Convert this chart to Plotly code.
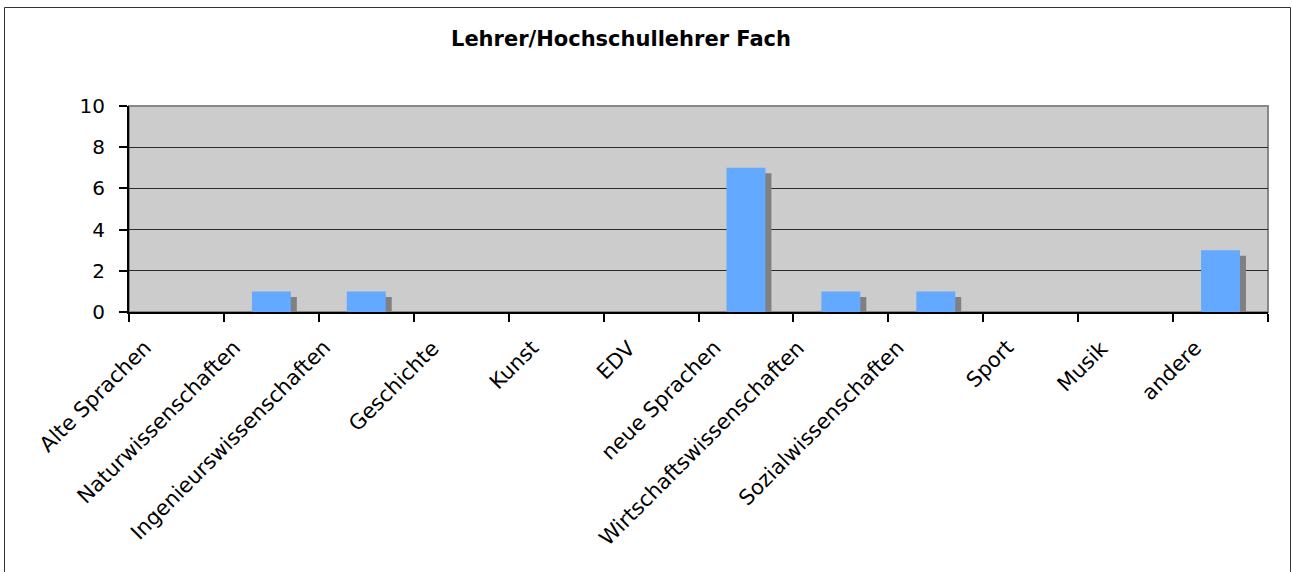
import plotly.graph_objects as go

categories = ["Alte Sprachen", "Naturwissenschaften", "Ingenieurswissenschaften",
              "Geschichte", "Kunst", "EDV", "neue Sprachen",
              "Wirtschaftswissenschaften", "Sozialwissenschaften", "Sport",
              "Musik", "andere"]
values = [0, 1, 1, 0, 0, 0, 7, 1, 1, 0, 0, 3]
y_ticks = [0, 2, 4, 6, 8, 10]
title_text = "Lehrer/Hochschullehrer Fach"

FONT = "DejaVu Sans, Verdana, sans-serif"
BAR_W = 0.41
SHADOW_DX = 0.063
SHADOW_DY = 0.27

W, H = 1292, 572
L, R, T, B = 129, 1268, 106, 312
pw, ph = R - L, B - T


def px(xs):
    return (xs - L) / pw


def py(ys):
    return (B - ys) / ph


fig = go.Figure()
# shadow
fig.add_trace(go.Bar(
    x=categories, y=values, base=-SHADOW_DY,
    width=BAR_W, offset=-BAR_W / 2 + SHADOW_DX,
    marker=dict(color="#808080", line=dict(width=0)),
    hoverinfo="skip", showlegend=False,
))
# bars
fig.add_trace(go.Bar(
    x=categories, y=values,
    width=BAR_W, offset=-BAR_W / 2,
    marker=dict(color="#63A9FF", line=dict(width=0)),
    showlegend=False,
))

n = len(categories)
annotations = [
    dict(text="<b>" + title_text + "</b>", xref="paper", yref="paper",
         x=px(621), y=py(39), xanchor="center", yanchor="middle",
         showarrow=False, font=dict(family=FONT, size=21, color="black")),
]
# rotated category labels (Excel-like placement: longer labels sit further left)
for i, cat in enumerate(categories):
    annotations.append(dict(
        text=cat, x=(i + 0.5) / n, xref="paper", y=py(333), yref="paper",
        xanchor="right", yanchor="top", textangle=-45, showarrow=False,
        xshift=-5 - 0.96 * len(cat),
        font=dict(family=FONT, size=21, color="black"),
    ))

fig.update_layout(
    width=W, height=H,
    margin=dict(l=L, r=W - R, t=T, b=H - B, pad=0),
    paper_bgcolor="white",
    plot_bgcolor="#CCCCCC",
    barmode="overlay",
    font=dict(family=FONT, size=20, color="black"),
    showlegend=False,
    shapes=[
        dict(type="rect", xref="paper", yref="paper", x0=0, x1=1, y0=0, y1=1,
             line=dict(color="#888888", width=2), layer="below"),
        dict(type="rect", xref="paper", yref="paper",
             x0=px(4.5), x1=px(1290.5), y0=py(590), y1=py(7.5),
             line=dict(color="#333333", width=1), layer="above"),
    ],
    annotations=annotations,
)

fig.update_xaxes(
    type="category", categoryorder="array", categoryarray=categories,
    range=[-0.5, n - 0.5], autorange=False,
    tickson="boundaries", ticks="outside", ticklen=8, tickwidth=1.5, tickcolor="black",
    showticklabels=False, showline=True, linecolor="black", linewidth=2,
    showgrid=False, zeroline=False,
)
fig.update_yaxes(
    range=[0, 10], autorange=False, tickvals=y_ticks, ticks="outside", ticklen=8,
    tickwidth=1.5, tickcolor="black", showline=True, linecolor="black", linewidth=2,
    showgrid=True, gridcolor="#2a2a2a", gridwidth=1.3, zeroline=False,
    tickfont=dict(family=FONT, size=20, color="black"),
    ticklabelstandoff=10,
)

fig.write_html("out.html", config={"displayModeBar": False},
               post_script="document.body.style.margin='0px';")
